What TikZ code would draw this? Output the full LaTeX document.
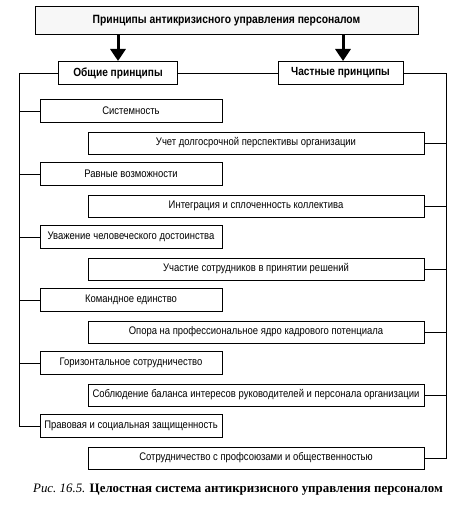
\documentclass[tikz,border=0pt]{standalone}
\usepackage{fontspec}
\setmainfont[FakeStretch=0.86]{Liberation Sans}
\newfontfamily\capfont{Liberation Serif}
\usetikzlibrary{arrows.meta}
\begin{document}
\begin{tikzpicture}[x=1pt,y=-1pt,
  box/.style={draw,line width=1pt,inner sep=0pt,align=center,font=\fontsize{11}{12}\selectfont},
  lbox/.style={box,minimum width=182pt,minimum height=23pt},
  rbox/.style={box,minimum width=336pt,minimum height=22pt},
  hbox/.style={box,minimum height=23pt,font=\bfseries\fontsize{11.8}{13}\selectfont},
  conn/.style={line width=0.8pt},
  bigarrow/.style={line width=3pt,-{Triangle[width=15pt,length=12pt]}}]
\useasboundingbox (0,0) rectangle (473,511);
\node[box,minimum width=383pt,minimum height=28pt,fill=gray!6,font=\bfseries\fontsize{12}{13}\selectfont] (top) at (226.5,21) {Принципы антикризисного управления персоналом};
\node[hbox,minimum width=119pt] (obsh) at (118,73) {Общие принципы};
\node[hbox,minimum width=125pt] (chast) at (340.5,73) {Частные принципы};
\draw[bigarrow] (top.south -| obsh) -- (obsh.north);
\coordinate (ra) at (343,0);
\draw[bigarrow] (top.south -| ra) -- (chast.north -| ra);
\draw[conn] (obsh.east) -- (chast.west);
\coordinate (L) at (19,73);
\coordinate (R) at (446,73);
\node[lbox] (l1) at (131,111) {Системность};
\node[rbox] (r1) at (256,143) {Учет долгосрочной перспективы организации};
\node[lbox] (l2) at (131,174) {Равные возможности};
\node[rbox] (r2) at (256,206) {Интеграция и сплоченность коллектива};
\node[lbox] (l3) at (131,237) {Уважение человеческого достоинства};
\node[rbox] (r3) at (256,269) {Участие сотрудников в принятии решений};
\node[lbox] (l4) at (131,300) {Командное единство};
\node[rbox] (r4) at (256,332) {Опора на профессиональное ядро кадрового потенциала};
\node[lbox] (l5) at (131,363) {Горизонтальное сотрудничество};
\node[rbox] (r5) at (256,395) {Соблюдение баланса интересов руководителей и персонала организации};
\node[lbox] (l6) at (131,426) {Правовая и социальная защищенность};
\node[rbox] (r6) at (256,458) {Сотрудничество с профсоюзами и общественностью};
\draw[conn] (obsh.west) -- (L) -- (L |- l6.west) -- (l6.west);
\draw[conn] (chast.east) -- (R) -- (R |- r6.east) -- (r6.east);
\foreach \i in {1,...,5} {
  \draw[conn] (l\i.west) -- (l\i.west -| L);
  \draw[conn] (r\i.east) -- (r\i.east -| R);
}
\node[font=\capfont\fontsize{12.9}{14}\selectfont] (cap) at (238,490) {\textit{Рис.\ 16.5.} \textbf{Целостная система антикризисного управления персоналом}};
\end{tikzpicture}
\end{document}
